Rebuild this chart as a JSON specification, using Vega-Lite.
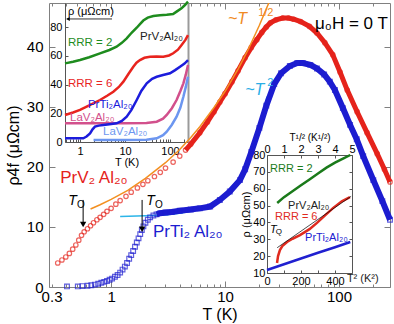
{
"$schema":"https://vega.github.io/schema/vega-lite/v6.json",
"width":341,"height":284,"autosize":"none",
"padding":{"left":49,"top":3,"right":4,"bottom":37},
"config":{"view":{"stroke":null},"font":"Liberation Sans",
 "axis":{"grid":false,"domainColor":"#808080","tickColor":"#808080","labelColor":"#000","titleColor":"#000","titleFontWeight":"normal","labelFont":"Liberation Sans","titleFont":"Liberation Sans","labelFlush":false,"labelOverlap":false},
 "text":{"font":"Liberation Sans","align":"left","baseline":"middle"}},
"datasets":{
 "red":[{"T":0.34,"rho":4.0},{"T":0.37,"rho":4.5},{"T":0.40,"rho":5.0},{"T":0.43,"rho":5.6},{"T":0.46,"rho":6.3},{"T":0.49,"rho":7.0},{"T":0.52,"rho":7.8},{"T":0.55,"rho":8.6},{"T":0.58,"rho":9.2},{"T":0.62,"rho":9.7},{"T":0.66,"rho":10.2},{"T":0.70,"rho":10.7},{"T":0.75,"rho":11.2},{"T":0.80,"rho":11.6},{"T":0.86,"rho":12.1},{"T":0.92,"rho":12.6},{"T":1.0,"rho":13.1},{"T":1.1,"rho":13.8},{"T":1.2,"rho":14.4},{"T":1.35,"rho":15.1},{"T":1.5,"rho":15.8},{"T":1.7,"rho":16.5},{"T":1.9,"rho":17.1},{"T":2.1,"rho":17.7},{"T":2.4,"rho":18.4},{"T":2.7,"rho":19.1},{"T":3.0,"rho":19.8},{"T":3.5,"rho":20.8},{"T":4.0,"rho":21.8},{"T":4.5,"rho":22.8},{"T":5.0,"rho":23.8},{"T":6.0,"rho":25.7},{"T":7.0,"rho":27.5},{"T":8.0,"rho":29.2},{"T":9.0,"rho":30.8},{"T":10,"rho":32.2},{"T":11.5,"rho":34.2},{"T":13,"rho":36.0},{"T":15,"rho":38.2},{"T":17,"rho":39.9},{"T":19,"rho":41.2},{"T":21,"rho":42.4},{"T":23,"rho":43.3},{"T":25,"rho":44.0},{"T":28,"rho":44.5},{"T":32,"rho":44.8},{"T":36,"rho":44.8},{"T":40,"rho":44.6},{"T":46,"rho":44.2},{"T":55,"rho":43.4},{"T":64,"rho":42.3},{"T":75,"rho":40.7},{"T":88,"rho":38.7},{"T":102,"rho":35.8},{"T":118,"rho":32.8},{"T":144,"rho":29.2},{"T":176,"rho":25.7},{"T":216,"rho":22.2},{"T":250,"rho":19.6},{"T":280,"rho":17.5}],
 "blue":[{"T":0.41,"rho":0.1},{"T":0.51,"rho":0.1},{"T":0.56,"rho":0.15},{"T":0.62,"rho":0.2},{"T":0.67,"rho":0.3},{"T":0.72,"rho":0.4},{"T":0.77,"rho":0.55},{"T":0.82,"rho":0.7},{"T":0.87,"rho":0.85},{"T":0.92,"rho":1.0},{"T":0.97,"rho":1.2},{"T":1.02,"rho":1.4},{"T":1.08,"rho":1.7},{"T":1.14,"rho":2.0},{"T":1.2,"rho":2.4},{"T":1.26,"rho":2.9},{"T":1.32,"rho":3.4},{"T":1.38,"rho":4.0},{"T":1.44,"rho":4.7},{"T":1.5,"rho":5.3},{"T":1.56,"rho":6.0},{"T":1.62,"rho":6.7},{"T":1.68,"rho":7.4},{"T":1.74,"rho":8.1},{"T":1.8,"rho":8.8},{"T":1.86,"rho":9.5},{"T":1.92,"rho":10.1},{"T":2.0,"rho":10.7},{"T":2.1,"rho":11.2},{"T":2.2,"rho":11.6},{"T":2.35,"rho":11.9},{"T":2.5,"rho":12.1},{"T":2.7,"rho":12.3},{"T":3.0,"rho":12.4},{"T":3.4,"rho":12.5},{"T":4.0,"rho":12.7},{"T":5.0,"rho":12.9},{"T":6.0,"rho":13.1},{"T":7.4,"rho":13.4},{"T":9.0,"rho":14.5},{"T":11,"rho":15.9},{"T":13.5,"rho":17.8},{"T":15,"rho":19.6},{"T":17,"rho":22.5},{"T":20,"rho":26.5},{"T":23,"rho":30.2},{"T":27,"rho":33.8},{"T":31,"rho":35.6},{"T":37,"rho":36.8},{"T":43,"rho":37.3},{"T":48,"rho":37.3},{"T":56,"rho":37.0},{"T":64,"rho":36.4},{"T":74,"rho":35.4},{"T":83,"rho":34.2},{"T":92,"rho":32.8},{"T":108,"rho":29.8},{"T":125,"rho":27.0},{"T":143,"rho":24.6},{"T":163,"rho":21.8},{"T":200,"rho":17.8},{"T":240,"rho":14.3},{"T":280,"rho":11.2}],
 "orange":[{"T":0.66,"rho":13.0},{"T":0.8,"rho":13.7},{"T":1.0,"rho":14.6},{"T":1.4,"rho":16.1},{"T":2,"rho":18.1},{"T":3,"rho":20.7},{"T":4,"rho":22.9},{"T":5,"rho":24.9},{"T":6,"rho":26.7},{"T":8,"rho":29.9},{"T":10,"rho":32.6},{"T":13,"rho":36.3},{"T":16,"rho":39.6},{"T":20,"rho":43.6},{"T":24.8,"rho":47.8}],
 "cyan":[{"T":1.2,"rho":11.75},{"T":2,"rho":11.85},{"T":3,"rho":12.0},{"T":4,"rho":12.3},{"T":5,"rho":12.6},{"T":7,"rho":13.5},{"T":10,"rho":15.4},{"T":13,"rho":17.9},{"T":16,"rho":21.1},{"T":19,"rho":25.0},{"T":22,"rho":29.5},{"T":23.3,"rho":31.7}],
 "i1":[
  {"T":0.464,"rho":54.7,"s":"g1"},{"T":0.7,"rho":55.8,"s":"g1"},{"T":1.0,"rho":57.0,"s":"g1"},{"T":1.6,"rho":59.0,"s":"g1"},{"T":2.78,"rho":61.7,"s":"g1"},{"T":4.5,"rho":64.0,"s":"g1"},{"T":6.5,"rho":66.3,"s":"g1"},{"T":8.5,"rho":69.0,"s":"g1"},{"T":10.9,"rho":72.1,"s":"g1"},{"T":14,"rho":76.0,"s":"g1"},{"T":18.2,"rho":79.5,"s":"g1"},{"T":21.5,"rho":82.0,"s":"g1"},{"T":25.5,"rho":84.5,"s":"g1"},{"T":32,"rho":86.5,"s":"g1"},{"T":42.6,"rho":87.7,"s":"g1"},{"T":60,"rho":88.2,"s":"g1"},{"T":84.5,"rho":88.5,"s":"g1"},{"T":117,"rho":89.0,"s":"g1"},{"T":140,"rho":90.7,"s":"g1"},{"T":180,"rho":93.0,"s":"g1"},{"T":215,"rho":95.3,"s":"g1"},{"T":251,"rho":97.6,"s":"g1"},
  {"T":0.464,"rho":18.8,"s":"r1"},{"T":0.7,"rho":20.5,"s":"r1"},{"T":1.0,"rho":22.3,"s":"r1"},{"T":1.6,"rho":25.5,"s":"r1"},{"T":2.78,"rho":29.2,"s":"r1"},{"T":4,"rho":32.2,"s":"r1"},{"T":5.5,"rho":35.0,"s":"r1"},{"T":7.3,"rho":38.3,"s":"r1"},{"T":9.2,"rho":42.0,"s":"r1"},{"T":12,"rho":47.5,"s":"r1"},{"T":15.3,"rho":52.4,"s":"r1"},{"T":18,"rho":55.2,"s":"r1"},{"T":21.5,"rho":57.0,"s":"r1"},{"T":27,"rho":58.6,"s":"r1"},{"T":36,"rho":59.3,"s":"r1"},{"T":50,"rho":59.4,"s":"r1"},{"T":71,"rho":59.3,"s":"r1"},{"T":95,"rho":60.2,"s":"r1"},{"T":118,"rho":61.7,"s":"r1"},{"T":150,"rho":64.2,"s":"r1"},{"T":181,"rho":67.5,"s":"r1"},{"T":220,"rho":71.0,"s":"r1"},{"T":251,"rho":74.4,"s":"r1"},
  {"T":0.464,"rho":13.0,"s":"p1"},{"T":1,"rho":13.0,"s":"p1"},{"T":3,"rho":13.0,"s":"p1"},{"T":10,"rho":13.0,"s":"p1"},{"T":30,"rho":13.2,"s":"p1"},{"T":50.7,"rho":14.1,"s":"p1"},{"T":70,"rho":16.2,"s":"p1"},{"T":84.5,"rho":18.8,"s":"p1"},{"T":110,"rho":23.5,"s":"p1"},{"T":140,"rho":29.2,"s":"p1"},{"T":170,"rho":35.5,"s":"p1"},{"T":198,"rho":40.8,"s":"p1"},{"T":225,"rho":47.0,"s":"p1"},{"T":251,"rho":53.6,"s":"p1"},
  {"T":2.0,"rho":1.4,"s":"lb1"},{"T":5,"rho":1.4,"s":"lb1"},{"T":10,"rho":1.4,"s":"lb1"},{"T":30,"rho":1.6,"s":"lb1"},{"T":50.7,"rho":2.6,"s":"lb1"},{"T":70,"rho":4.8,"s":"lb1"},{"T":84.5,"rho":7.2,"s":"lb1"},{"T":110,"rho":12.0,"s":"lb1"},{"T":140,"rho":17.6,"s":"lb1"},{"T":170,"rho":24.0,"s":"lb1"},{"T":198,"rho":31.5,"s":"lb1"},{"T":225,"rho":38.5,"s":"lb1"},{"T":251,"rho":45.4,"s":"lb1"},
  {"T":0.464,"rho":2.6,"s":"b1"},{"T":0.8,"rho":2.6,"s":"b1"},{"T":1.18,"rho":2.6,"s":"b1"},{"T":1.4,"rho":3.8,"s":"b1"},{"T":1.67,"rho":6.0,"s":"b1"},{"T":1.9,"rho":8.8,"s":"b1"},{"T":2.15,"rho":10.7,"s":"b1"},{"T":2.6,"rho":11.4,"s":"b1"},{"T":3.3,"rho":11.8,"s":"b1"},{"T":4.5,"rho":12.4,"s":"b1"},{"T":6.5,"rho":13.0,"s":"b1"},{"T":8.5,"rho":14.6,"s":"b1"},{"T":10.9,"rho":17.6,"s":"b1"},{"T":14,"rho":22.5,"s":"b1"},{"T":18.2,"rho":29.2,"s":"b1"},{"T":23,"rho":35.5,"s":"b1"},{"T":30.4,"rho":40.8,"s":"b1"},{"T":40,"rho":44.0,"s":"b1"},{"T":50.7,"rho":45.4,"s":"b1"},{"T":70,"rho":46.6,"s":"b1"},{"T":100,"rho":47.8,"s":"b1"},{"T":130,"rho":50.0,"s":"b1"},{"T":167,"rho":52.4,"s":"b1"},{"T":210,"rho":54.6,"s":"b1"},{"T":251,"rho":57.0,"s":"b1"}],
 "i1lab":[{"T":0.54,"rho":68.9,"s":"g1","label":"RRR = 2"},{"T":21.5,"rho":72.7,"s":"k","label":"PrV₂Al₂₀"},{"T":0.54,"rho":40.3,"s":"r1","label":"RRR = 6"},{"T":1.5,"rho":26.0,"s":"b1","label":"PrTi₂Al₂₀"},{"T":0.60,"rho":16.6,"s":"p1","label":"LaV₂Al₂₀"},{"T":3.24,"rho":6.8,"s":"lb1","label":"LaV₂Al₂₀"}],
 "i2s":[{"S":0.6,"rho":51.5,"s":"g2"},{"S":1.0,"rho":55,"s":"g2"},{"S":1.5,"rho":58.5,"s":"g2"},{"S":2.0,"rho":62,"s":"g2"},{"S":2.5,"rho":65.5,"s":"g2"},{"S":3.0,"rho":69,"s":"g2"},{"S":3.5,"rho":72.5,"s":"g2"},{"S":4.0,"rho":75.5,"s":"g2"},{"S":4.5,"rho":78,"s":"g2"},{"S":4.9,"rho":80,"s":"g2"},
  {"S":0.59,"rho":15.9,"s":"r2"},{"S":0.65,"rho":20,"s":"r2"},{"S":0.76,"rho":23.6,"s":"r2"},{"S":0.9,"rho":26,"s":"r2"},{"S":1.18,"rho":28.4,"s":"r2"},{"S":1.5,"rho":30.3,"s":"r2"},{"S":1.94,"rho":32.5,"s":"r2"},{"S":2.5,"rho":36,"s":"r2"},{"S":2.94,"rho":39.7,"s":"r2"},{"S":3.4,"rho":44,"s":"r2"},{"S":3.88,"rho":48.5,"s":"r2"},{"S":4.4,"rho":52.5,"s":"r2"},{"S":4.88,"rho":55,"s":"r2"}],
 "i2fit":[{"S":0.6,"rho":25},{"S":4.95,"rho":55.5}],
 "i2b":[{"T2":0,"rho":11.8,"s":"b2"},{"T2":100,"rho":15.2,"s":"b2"},{"T2":200,"rho":18.6,"s":"b2"},{"T2":300,"rho":22,"s":"b2"},{"T2":400,"rho":25.3,"s":"b2"},{"T2":490,"rho":28.4,"s":"b2"}],
 "i2slab":[{"S":0.18,"rho":71.7,"s":"g2","label":"RRR = 2"},{"S":1.24,"rho":49.6,"s":"k","label":"PrV₂Al₂₀"},{"S":0.47,"rho":43.2,"s":"r2","label":"RRR = 6"}],
 "i2blab":[{"T2":224,"rho":30.8,"s":"b2","label":"PrTi₂Al₂₀"},{"T2":470,"rho":6.4,"s":"k","label":"T² (K²)"}]
},
"layer":[
 {"layer":[
  {"data":{"name":"red"},"transform":[{"filter":"datum.T >= 4.5"}],"mark":{"type":"line","color":"#e5231b","strokeWidth":5},
   "encoding":{"x":{"field":"T","type":"quantitative","scale":{"type":"log","domain":[0.285,280],"nice":false},
     "axis":{"orient":"bottom","values":[1,10,100],"labelExpr":"''+datum.value","tickSize":-6,"labelPadding":8,"labelFontSize":15,"title":"T (K)","titleFontSize":16,"titlePadding":2}},
    "y":{"field":"rho","type":"quantitative","scale":{"domain":[0,47.3],"nice":false,"zero":false},
     "axis":{"orient":"left","values":[0,10,20,30,40],"tickSize":-6,"labelPadding":12,"labelFontSize":15,"title":"ρ4f (μΩcm)","titleFontSize":16,"titlePadding":5}}}},
  {"data":{"name":"red"},"mark":{"type":"point","shape":"circle","filled":false,"color":"#e5231b","size":20,"strokeWidth":1.2},
   "encoding":{"x":{"field":"T","type":"quantitative","scale":{"type":"log","domain":[0.285,280],"nice":false},
     "axis":{"orient":"bottom","values":[0.3,0.4,0.5,0.6,0.7,0.8,0.9,2,3,4,5,6,7,8,9,20,30,40,50,60,70,80,90,200],"labelExpr":"datum.value==0.3?'0.3':''","tickSize":-3,"labelPadding":5,"labelFontSize":15,"title":null,"domain":false}},
    "y":{"field":"rho","type":"quantitative","scale":{"domain":[0,47.3],"nice":false,"zero":false},
     "axis":{"orient":"right","values":[0,10,20,30,40],"tickSize":-6,"labels":false,"title":null}}}},
  {"data":{"name":"orange"},"mark":{"type":"line","color":"#f39021","strokeWidth":1.5,"clip":true},
   "encoding":{"x":{"field":"T","type":"quantitative","scale":{"type":"log","domain":[0.285,280],"nice":false},"axis":null},
    "y":{"field":"rho","type":"quantitative","scale":{"domain":[0,47.3],"nice":false,"zero":false},"axis":null}}},
  {"data":{"name":"cyan"},"mark":{"type":"line","color":"#2cb5e8","strokeWidth":1.5},
   "encoding":{"x":{"field":"T","type":"quantitative","scale":{"type":"log","domain":[0.285,280],"nice":false},"axis":null},
    "y":{"field":"rho","type":"quantitative","scale":{"domain":[0,47.3],"nice":false,"zero":false},"axis":null}}},
  {"data":{"name":"blue"},"transform":[{"filter":"datum.T >= 2.5"}],"mark":{"type":"line","color":"#1c1cd0","strokeWidth":6},
   "encoding":{"x":{"field":"T","type":"quantitative","scale":{"type":"log","domain":[0.285,280],"nice":false},
     "axis":{"orient":"top","values":[1,10,100],"tickSize":-6,"labels":false,"title":null}},
    "y":{"field":"rho","type":"quantitative","scale":{"domain":[0,47.3],"nice":false,"zero":false},"axis":null}}},
  {"data":{"name":"blue"},"mark":{"type":"point","shape":"square","filled":false,"color":"#1c1cd0","size":22,"strokeWidth":1.2},
   "encoding":{"x":{"field":"T","type":"quantitative","scale":{"type":"log","domain":[0.285,280],"nice":false},
     "axis":{"orient":"top","values":[0.3,0.4,0.5,0.6,0.7,0.8,0.9,2,3,4,5,6,7,8,9,20,30,40,50,60,70,80,90,200],"tickSize":-3,"labels":false,"title":null,"domain":false}},
    "y":{"field":"rho","type":"quantitative","scale":{"domain":[0,47.3],"nice":false,"zero":false},"axis":null}}},
  {"data":{"values":[{"T":0.568,"y1":14.5,"y2":10.6},{"T":1.87,"y1":14.5,"y2":9.8}]},"mark":{"type":"rule","color":"#000","strokeWidth":1},
   "encoding":{"x":{"field":"T","type":"quantitative","scale":{"type":"log","domain":[0.285,280],"nice":false},"axis":null},
    "y":{"field":"y1","type":"quantitative","scale":{"domain":[0,47.3],"nice":false,"zero":false},"axis":null},"y2":{"field":"y2"}}},
  {"data":{"values":[{"T":0.568,"rho":10.4},{"T":1.87,"rho":9.6}]},"mark":{"type":"point","shape":"triangle-down","filled":true,"color":"#000","size":40,"opacity":1},
   "encoding":{"x":{"field":"T","type":"quantitative","scale":{"type":"log","domain":[0.285,280],"nice":false},"axis":null},
    "y":{"field":"rho","type":"quantitative","scale":{"domain":[0,47.3],"nice":false,"zero":false},"axis":null}}},
  {"data":{"values":[{"T":0.357,"rho":18.2,"label":"PrV₂ Al₂₀"}]},"mark":{"type":"text","color":"#e5231b","fontSize":17},
   "encoding":{"x":{"field":"T","type":"quantitative","scale":{"type":"log","domain":[0.285,280],"nice":false},"axis":null},
    "y":{"field":"rho","type":"quantitative","scale":{"domain":[0,47.3],"nice":false,"zero":false},"axis":null},"text":{"field":"label"}}},
  {"data":{"values":[{"T":2.33,"rho":9.2,"label":"PrTi₂ Al₂₀"}]},"mark":{"type":"text","color":"#1c1cd0","fontSize":17},
   "encoding":{"x":{"field":"T","type":"quantitative","scale":{"type":"log","domain":[0.285,280],"nice":false},"axis":null},
    "y":{"field":"rho","type":"quantitative","scale":{"domain":[0,47.3],"nice":false,"zero":false},"axis":null},"text":{"field":"label"}}},
  {"data":{"values":[{"T":61.6,"rho":43.8,"label":"μ₀H = 0 T"}]},"mark":{"type":"text","color":"#000","fontSize":17},
   "encoding":{"x":{"field":"T","type":"quantitative","scale":{"type":"log","domain":[0.285,280],"nice":false},"axis":null},
    "y":{"field":"rho","type":"quantitative","scale":{"domain":[0,47.3],"nice":false,"zero":false},"axis":null},"text":{"field":"label"}}},
  {"data":{"values":[{"T":10.6,"rho":44.7,"label":"~T"}]},"mark":{"type":"text","color":"#f08a24","fontSize":16,"fontStyle":"italic"},
   "encoding":{"x":{"field":"T","type":"quantitative","scale":{"type":"log","domain":[0.285,280],"nice":false},"axis":null},
    "y":{"field":"rho","type":"quantitative","scale":{"domain":[0,47.3],"nice":false,"zero":false},"axis":null},"text":{"field":"label"}}},
  {"data":{"values":[{"T":19.5,"rho":45.6,"label":"1/2"}]},"mark":{"type":"text","color":"#f08a24","fontSize":11},
   "encoding":{"x":{"field":"T","type":"quantitative","scale":{"type":"log","domain":[0.285,280],"nice":false},"axis":null},
    "y":{"field":"rho","type":"quantitative","scale":{"domain":[0,47.3],"nice":false,"zero":false},"axis":null},"text":{"field":"label"}}},
  {"data":{"values":[{"T":15.0,"rho":32.8,"label":"~T"}]},"mark":{"type":"text","color":"#2aaee6","fontSize":16,"fontStyle":"italic"},
   "encoding":{"x":{"field":"T","type":"quantitative","scale":{"type":"log","domain":[0.285,280],"nice":false},"axis":null},
    "y":{"field":"rho","type":"quantitative","scale":{"domain":[0,47.3],"nice":false,"zero":false},"axis":null},"text":{"field":"label"}}},
  {"data":{"values":[{"T":23.4,"rho":33.9,"label":"2"}]},"mark":{"type":"text","color":"#2aaee6","fontSize":11},
   "encoding":{"x":{"field":"T","type":"quantitative","scale":{"type":"log","domain":[0.285,280],"nice":false},"axis":null},
    "y":{"field":"rho","type":"quantitative","scale":{"domain":[0,47.3],"nice":false,"zero":false},"axis":null},"text":{"field":"label"}}},
  {"data":{"values":[{"T":0.42,"rho":14.3,"label":"T"},{"T":2.03,"rho":14.3,"label":"T"}]},"mark":{"type":"text","color":"#000","fontSize":14,"fontStyle":"italic"},
   "encoding":{"x":{"field":"T","type":"quantitative","scale":{"type":"log","domain":[0.285,280],"nice":false},"axis":null},
    "y":{"field":"rho","type":"quantitative","scale":{"domain":[0,47.3],"nice":false,"zero":false},"axis":null},"text":{"field":"label"}}},
  {"data":{"values":[{"T":0.503,"rho":13.6,"label":"O"},{"T":2.43,"rho":13.6,"label":"O"}]},"mark":{"type":"text","color":"#000","fontSize":10},
   "encoding":{"x":{"field":"T","type":"quantitative","scale":{"type":"log","domain":[0.285,280],"nice":false},"axis":null},
    "y":{"field":"rho","type":"quantitative","scale":{"domain":[0,47.3],"nice":false,"zero":false},"axis":null},"text":{"field":"label"}}}
 ],"resolve":{"axis":{"x":"independent","y":"independent"}}},
 {"layer":[
  {"data":{"name":"i1"},"mark":{"type":"line"},
   "encoding":{"x":{"field":"T","type":"quantitative","scale":{"type":"log","domain":[0.464,251],"range":[16,139],"nice":false},
     "axis":{"orient":"bottom","offset":-145,"values":[0.5,0.6,0.7,0.8,0.9,1,2,3,4,5,6,7,8,9,10,20,30,40,50,60,70,80,90,100,200],"labelExpr":"datum.value==1||datum.value==10||datum.value==100?''+datum.value:''","tickSize":-3,"labelPadding":6,"labelFontSize":11,"title":"T (K)","titleFontSize":11,"titlePadding":0,"domainColor":"#555","tickColor":"#555"}},
    "y":{"field":"rho","type":"quantitative","scale":{"domain":[0,96.7],"range":[139,0],"nice":false,"zero":false},
     "axis":{"orient":"left","offset":-16,"values":[0,20,40,60,80],"tickSize":-3,"labelPadding":6,"labelFontSize":11,"title":null,"domainColor":"#555","tickColor":"#555"}},
    "color":{"field":"s","type":"nominal","scale":{"domain":["g1","r1","b1","p1","lb1","k","g2","r2","b2"],"range":["#1e8c1e","#e8241e","#1c1cdc","#d2508c","#6c96f0","#222222","#1a7a1a","#e02a1e","#2020d0"]},"legend":null},
    "strokeWidth":{"field":"s","type":"nominal","scale":{"domain":["g1","r1","b1","p1","lb1","k","g2","r2","b2"],"range":[2.5,2.5,4,2,2.5,1,3,2,3]},"legend":null},
    "order":{"field":"T","type":"quantitative"}}},
  {"data":{"name":"i1lab"},"mark":{"type":"text","fontSize":11.5},
   "encoding":{"x":{"field":"T","type":"quantitative","scale":{"type":"log","domain":[0.464,251],"range":[16,139],"nice":false},"axis":null},
    "y":{"field":"rho","type":"quantitative","scale":{"domain":[0,96.7],"range":[139,0],"nice":false,"zero":false},
     "axis":{"orient":"right","offset":-202,"values":[0,20,40,60,80],"ticks":false,"labels":false,"title":null,"domainColor":"#9a9a9a","domainWidth":2}},
    "color":{"field":"s","type":"nominal","scale":{"domain":["g1","r1","b1","p1","lb1","k","g2","r2","b2"],"range":["#1e8c1e","#e8241e","#1c1cdc","#d2508c","#6c96f0","#222222","#1a7a1a","#e02a1e","#2020d0"]},"legend":null},
    "text":{"field":"label"}}},
  {"data":{"values":[{"T":0.54,"rho":90.3,"label":"ρ (μΩcm)"}]},"mark":{"type":"text","fontSize":11,"color":"#000"},
   "encoding":{"x":{"field":"T","type":"quantitative","scale":{"type":"log","domain":[0.464,251],"range":[16,139],"nice":false},"axis":null},
    "y":{"field":"rho","type":"quantitative","scale":{"domain":[0,96.7],"range":[139,0],"nice":false,"zero":false},"axis":null},"text":{"field":"label"}}},
  {"data":{"values":[{"T":0.56,"T2":5.14,"rho":85.6}]},"mark":{"type":"rule","color":"#000","strokeWidth":0.8},
   "encoding":{"x":{"field":"T","type":"quantitative","scale":{"type":"log","domain":[0.464,251],"range":[16,139],"nice":false},"axis":null},"x2":{"field":"T2"},
    "y":{"field":"rho","type":"quantitative","scale":{"domain":[0,96.7],"range":[139,0],"nice":false,"zero":false},"axis":null}}},
  {"data":{"values":[{"T":0.54,"rho":85.6}]},"mark":{"type":"point","shape":"triangle-left","filled":true,"color":"#000","size":18,"opacity":1},
   "encoding":{"x":{"field":"T","type":"quantitative","scale":{"type":"log","domain":[0.464,251],"range":[16,139],"nice":false},"axis":null},
    "y":{"field":"rho","type":"quantitative","scale":{"domain":[0,96.7],"range":[139,0],"nice":false,"zero":false},"axis":null}}}
 ],"resolve":{"axis":{"x":"independent","y":"independent"}}},
 {"layer":[
  {"data":{"name":"i2b"},"mark":{"type":"line"},
   "encoding":{"x":{"field":"T2","type":"quantitative","scale":{"domain":[0,500],"range":[218,303],"nice":false,"zero":false},
     "axis":{"orient":"bottom","offset":-14,"values":[0,100,200,300,400],"labelExpr":"datum.value==100||datum.value==300?'':''+datum.value","tickSize":-3,"labelPadding":5,"labelFontSize":11,"title":null,"domainColor":"#555","tickColor":"#555"}},
    "y":{"field":"rho","type":"quantitative","scale":{"domain":[10,80],"range":[270,152],"nice":false,"zero":false},
     "axis":{"orient":"left","offset":-218,"values":[10,20,30,40,50,60,70,80],"tickSize":-3,"labelPadding":5,"labelFontSize":11,"title":"ρ (μΩcm)","titleFontSize":11,"titlePadding":1,"domainColor":"#555","tickColor":"#555"}},
    "color":{"field":"s","type":"nominal","scale":{"domain":["g1","r1","b1","p1","lb1","k","g2","r2","b2"],"range":["#1e8c1e","#e8241e","#1c1cdc","#d2508c","#6c96f0","#222222","#1a7a1a","#e02a1e","#2020d0"]},"legend":null},
    "strokeWidth":{"field":"s","type":"nominal","scale":{"domain":["g1","r1","b1","p1","lb1","k","g2","r2","b2"],"range":[2.5,2.5,4,2,2.5,1,3,2,3]},"legend":null}}},
  {"data":{"name":"i2blab"},"mark":{"type":"text","fontSize":11},
   "encoding":{"x":{"field":"T2","type":"quantitative","scale":{"domain":[0,500],"range":[218,303],"nice":false,"zero":false},"axis":null},
    "y":{"field":"rho","type":"quantitative","scale":{"domain":[10,80],"range":[270,152],"nice":false,"zero":false},
     "axis":{"orient":"right","offset":-38,"values":[10,20,30,40,50,60,70,80],"tickSize":-3,"labels":false,"title":null,"domainColor":"#555","tickColor":"#555"}},
    "color":{"field":"s","type":"nominal","scale":{"domain":["g1","r1","b1","p1","lb1","k","g2","r2","b2"],"range":["#1e8c1e","#e8241e","#1c1cdc","#d2508c","#6c96f0","#222222","#1a7a1a","#e02a1e","#2020d0"]},"legend":null},
    "text":{"field":"label"}}}
 ],"resolve":{"axis":{"x":"independent","y":"independent"}}},
 {"layer":[
  {"data":{"name":"i2s"},"mark":{"type":"line","clip":true},
   "encoding":{"x":{"field":"S","type":"quantitative","scale":{"domain":[0,5],"range":[218,303],"nice":false,"zero":false},
     "axis":{"orient":"top","offset":-152,"values":[0,1,2,3,4,5],"tickSize":-3,"labelPadding":4,"labelFontSize":11,"title":"T¹/² (K¹/²)","titleFontSize":10,"titlePadding":1,"domainColor":"#555","tickColor":"#555"}},
    "y":{"field":"rho","type":"quantitative","scale":{"domain":[10,80],"range":[270,152],"nice":false,"zero":false},"axis":null},
    "color":{"field":"s","type":"nominal","scale":{"domain":["g1","r1","b1","p1","lb1","k","g2","r2","b2"],"range":["#1e8c1e","#e8241e","#1c1cdc","#d2508c","#6c96f0","#222222","#1a7a1a","#e02a1e","#2020d0"]},"legend":null},
    "strokeWidth":{"field":"s","type":"nominal","scale":{"domain":["g1","r1","b1","p1","lb1","k","g2","r2","b2"],"range":[2.5,2.5,4,2,2.5,1,3,2,3]},"legend":null}}},
  {"data":{"name":"i2fit"},"mark":{"type":"line","color":"#000","strokeWidth":0.7},
   "encoding":{"x":{"field":"S","type":"quantitative","scale":{"domain":[0,5],"range":[218,303],"nice":false,"zero":false},"axis":null},
    "y":{"field":"rho","type":"quantitative","scale":{"domain":[10,80],"range":[270,152],"nice":false,"zero":false},"axis":null}}},
  {"data":{"name":"i2slab"},"mark":{"type":"text","fontSize":11},
   "encoding":{"x":{"field":"S","type":"quantitative","scale":{"domain":[0,5],"range":[218,303],"nice":false,"zero":false},"axis":null},
    "y":{"field":"rho","type":"quantitative","scale":{"domain":[10,80],"range":[270,152],"nice":false,"zero":false},"axis":null},
    "color":{"field":"s","type":"nominal","scale":{"domain":["g1","r1","b1","p1","lb1","k","g2","r2","b2"],"range":["#1e8c1e","#e8241e","#1c1cdc","#d2508c","#6c96f0","#222222","#1a7a1a","#e02a1e","#2020d0"]},"legend":null},
    "text":{"field":"label"}}},
  {"data":{"values":[{"S":0.18,"rho":35.5,"label":"T"}]},"mark":{"type":"text","fontSize":11,"fontStyle":"italic","color":"#000"},
   "encoding":{"x":{"field":"S","type":"quantitative","scale":{"domain":[0,5],"range":[218,303],"nice":false,"zero":false},"axis":null},
    "y":{"field":"rho","type":"quantitative","scale":{"domain":[10,80],"range":[270,152],"nice":false,"zero":false},"axis":null},"text":{"field":"label"}}},
  {"data":{"values":[{"S":0.52,"rho":34.3,"label":"Q"}]},"mark":{"type":"text","fontSize":8,"color":"#000"},
   "encoding":{"x":{"field":"S","type":"quantitative","scale":{"domain":[0,5],"range":[218,303],"nice":false,"zero":false},"axis":null},
    "y":{"field":"rho","type":"quantitative","scale":{"domain":[10,80],"range":[270,152],"nice":false,"zero":false},"axis":null},"text":{"field":"label"}}}
 ],"resolve":{"axis":{"x":"independent","y":"independent"}}}
],
"resolve":{"scale":{"x":"independent","y":"independent"},"axis":{"x":"independent","y":"independent"}}
}
